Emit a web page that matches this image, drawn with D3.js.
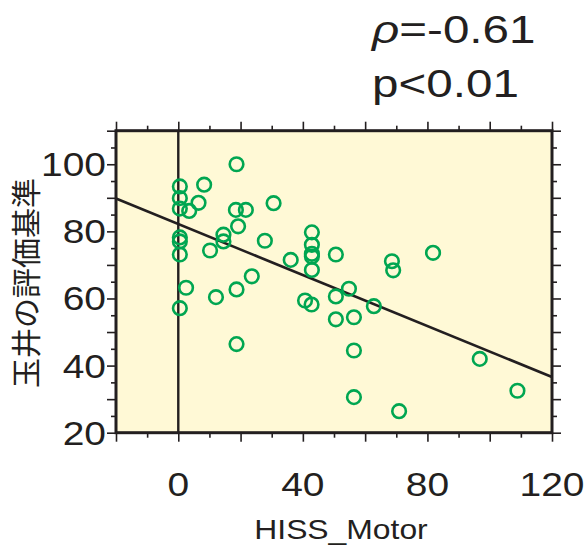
<!DOCTYPE html>
<html>
<head>
<meta charset="utf-8">
<script src="https://cdn.jsdelivr.net/npm/d3@7"></script>
<style>
  body { margin: 0; background: #fff; }
  text { font-family: "Liberation Sans", Arial, sans-serif; fill: #231f20; }
</style>
</head>
<body>
<svg id="chart" width="585" height="549"></svg>
<script>
// HISS_Motor score
var motor = [0.5, 8.3, 18.7, 0.5, 6.5, 0.5, 3.5, 18.5, 21.7, 30.6,
             19.2, 0.5, 0.5, 14.5, 14.5, 27.8, 0.5, 10.2, 36.1, 42.9,
             42.9, 42.9, 42.9, 42.9, 23.6, 50.6, 68.6, 69.0, 81.8, 2.5,
             0.5, 12.1, 18.7, 18.7, 40.7, 42.8, 50.6, 50.6, 54.8, 62.8,
             56.4, 56.4, 56.4, 70.9, 96.8, 108.9];
// 玉井の評価基準
var tamai = [93.4, 93.9, 100.0, 89.9, 88.5, 86.8, 86.1, 86.4, 86.4, 88.4,
             81.5, 78.2, 77.0, 79.0, 77.0, 77.2, 73.1, 74.3, 71.5, 79.7,
             76.0, 73.3, 72.5, 68.5, 66.6, 73.1, 71.1, 68.4, 73.6, 63.2,
             57.1, 60.4, 62.7, 46.4, 59.4, 58.2, 60.6, 53.8, 62.9, 57.7,
             54.4, 44.5, 30.6, 26.4, 42.0, 32.5];

var xDomain = [-20, 120];
var yDomain = [20, 110];
var xLabels = [0, 40, 80, 120];
var yLabels = [20, 40, 60, 80, 100];
var fitCoef = [82.2, -0.38];   // intercept, slope
var statLines = [['\u03c1', '=-0.61'], ['', 'p<0.01']];

var svg = d3.select('#chart');
var pLeft = 116, pRight = 552, pTop = 130.7, pBottom = 432.7;
var ink = '#231f20';

var x = d3.scaleLinear().domain(xDomain).range([pLeft, pRight]);
var y = d3.scaleLinear().domain(yDomain).range([pBottom, pTop]);

svg.append('rect')
    .attr('x', pLeft).attr('y', pTop)
    .attr('width', pRight - pLeft).attr('height', pBottom - pTop)
    .attr('fill', '#fff9d6');

// ticks on all four sides, outward
function tickAxis(axis, g) {
    g.call(axis);
    g.select('.domain').remove();
    g.selectAll('line').attr('stroke', ink).attr('stroke-width', 1.6);
    g.selectAll('text').remove();
}
var xMajor = d3.range(-20, 121, 20), xMinor = d3.range(-10, 121, 20);
var yMajor = d3.range(20, 111, 10), yMinor = d3.range(25, 111, 10);

[[d3.axisBottom, pBottom], [d3.axisTop, pTop]].forEach(function(a) {
    svg.append('g').attr('transform', 'translate(0,' + a[1] + ')')
        .call(function(g) { tickAxis(a[0](x).tickValues(xMajor).tickSize(9), g); });
    svg.append('g').attr('transform', 'translate(0,' + a[1] + ')')
        .call(function(g) { tickAxis(a[0](x).tickValues(xMinor).tickSize(5), g); });
});
[[d3.axisLeft, pLeft], [d3.axisRight, pRight]].forEach(function(a) {
    svg.append('g').attr('transform', 'translate(' + a[1] + ',0)')
        .call(function(g) { tickAxis(a[0](y).tickValues(yMajor).tickSize(9), g); });
    svg.append('g').attr('transform', 'translate(' + a[1] + ',0)')
        .call(function(g) { tickAxis(a[0](y).tickValues(yMinor).tickSize(5), g); });
});

// x = 0 line
svg.append('line')
    .attr('x1', x(0)).attr('x2', x(0))
    .attr('y1', pTop).attr('y2', pBottom)
    .attr('stroke', ink).attr('stroke-width', 2.4);

// regression line
svg.append('line')
    .attr('x1', x(xDomain[0])).attr('y1', y(fitCoef[0] + fitCoef[1] * xDomain[0]))
    .attr('x2', x(xDomain[1])).attr('y2', y(fitCoef[0] + fitCoef[1] * xDomain[1]))
    .attr('stroke', ink).attr('stroke-width', 2.6);

svg.append('g').selectAll('circle')
    .data(motor)
    .enter().append('circle')
    .attr('cx', function(d) { return x(d); })
    .attr('cy', function(d, i) { return y(tamai[i]); })
    .attr('r', 6.8)
    .attr('fill', 'none')
    .attr('stroke', '#00a651')
    .attr('stroke-width', 2.6);

svg.append('rect')
    .attr('x', pLeft).attr('y', pTop)
    .attr('width', pRight - pLeft).attr('height', pBottom - pTop)
    .attr('fill', 'none')
    .attr('stroke', ink).attr('stroke-width', 3);

// labels (source text is wide, so stretch horizontally)
function wide(sel, sx) {
    sel.attr('transform', function(d) {
        return 'translate(' + d.px + ',' + d.py + ') scale(' + sx + ',1)';
    });
}

svg.append('g').selectAll('text')
    .data(xLabels.map(function(v) { return {v: v, px: x(v), py: 496}; }))
    .enter().append('text')
    .attr('text-anchor', 'middle')
    .style('font-size', '33px')
    .text(function(d) { return d.v; })
    .call(wide, 1.18);

svg.append('g').selectAll('text')
    .data(yLabels.map(function(v) { return {v: v, px: 106, py: y(v) + 12}; }))
    .enter().append('text')
    .attr('text-anchor', 'end')
    .style('font-size', '33px')
    .text(function(d) { return d.v; })
    .call(wide, 1.18);

svg.append('text')
    .datum({px: 341, py: 539})
    .attr('text-anchor', 'middle')
    .style('font-size', '27px')
    .text('HISS_Motor')
    .call(wide, 1.18);

svg.append('text')
    .attr('transform', 'translate(37,283) rotate(-90)')
    .attr('text-anchor', 'middle')
    .style('font-family', '"Noto Sans CJK JP", sans-serif')
    .style('font-size', '30px')
    .text('玉井の評価基準');

var stat = svg.append('g').selectAll('text')
    .data(statLines.map(function(s, i) { return {s: s, px: 372, py: 43 + i * 54}; }))
    .enter().append('text')
    .style('font-size', '39px')
    .call(wide, 1.22);
stat.append('tspan')
    .style('font-style', 'italic')
    .text(function(d) { return d.s[0]; });
stat.append('tspan')
    .text(function(d) { return d.s[1]; });
</script>
</body>
</html>
